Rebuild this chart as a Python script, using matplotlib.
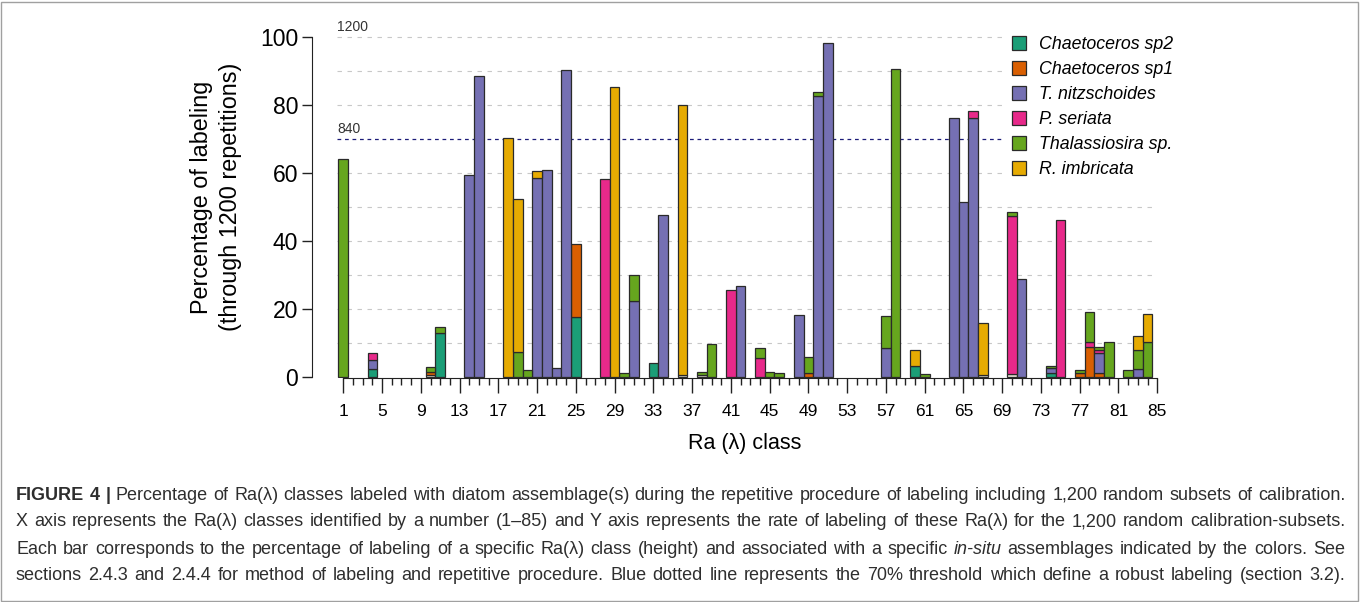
import matplotlib
matplotlib.use("Agg")
import matplotlib.pyplot as plt
import numpy as np
from matplotlib.patches import Rectangle

# classes Ra(lambda)
classes = np.arange(1, 86)

# pourcentages, par classe
autre = {10: 0.6, 36: 0.5, 38: 0.6, 67: 0.5, 70: 0.8}
chaeto_sp2 = {4: 2.2, 11: 13.0, 25: 17.7, 33: 3.9, 60: 3.2, 74: 1.0}
chaeto_sp1 = {10: 0.8, 25: 21.3, 49: 1.2, 77: 1.0, 78: 8.8, 79: 1.2}
t_nitz = {4: 2.7, 14: 59.3, 15: 88.7, 21: 58.5, 22: 61.0, 23: 2.7, 24: 90.4,
          31: 22.4, 34: 47.7, 42: 26.8, 48: 18.1, 50: 82.7, 51: 98.2, 57: 8.6,
          64: 76.3, 65: 51.6, 66: 76.1, 71: 28.9, 74: 1.5, 79: 5.7, 83: 2.3}
p_seriata = {4: 2.2, 28: 58.3, 41: 25.5, 44: 5.4, 66: 2.2, 70: 46.6, 75: 46.2,
             78: 1.5, 79: 1.0}
thalass = {1: 64.2, 10: 1.5, 11: 1.6, 19: 7.2, 20: 2.0, 30: 1.0, 31: 7.7,
           38: 0.9, 39: 9.5, 44: 3.2, 45: 1.5, 46: 1.2, 49: 4.7, 50: 1.2,
           57: 9.3, 58: 90.8, 61: 0.8, 70: 1.0, 74: 0.7, 77: 1.0, 78: 8.8,
           79: 0.8, 80: 10.3, 82: 2.0, 83: 5.6, 84: 10.1}
r_imbr = {18: 70.3, 19: 45.2, 21: 2.2, 29: 85.4, 36: 79.7, 60: 4.7, 67: 15.2,
          83: 4.1, 84: 8.3}

noms = [None, "Chaetoceros sp2", "Chaetoceros sp1", "T. nitzschoides",
        "P. seriata", "Thalassiosira sp.", "R. imbricata"]
couleurs = ["#e9e5d8", "#1b9e77", "#d95f02", "#7570b3", "#e7298a", "#66a61e", "#e6ab02"]
series = [autre, chaeto_sp2, chaeto_sp1, t_nitz, p_seriata, thalass, r_imbr]

yticks = [0, 20, 40, 60, 80, 100]
xlabels = list(range(1, 86, 4))
seuil = 70


def en_tableau(d):
    a = np.zeros(len(classes))
    for k, v in d.items():
        a[k - 1] = v
    return a


plt.rcParams['font.family'] = ['Liberation Sans', 'DejaVu Sans']

W, H = 1360, 602
fig = plt.figure(figsize=(W / 100, H / 100), dpi=100)
ax = fig.add_axes([312 / W, 1 - 378 / H, (1165 - 312) / W, (378 - 30) / H])

bas = np.zeros(len(classes))
for d, c, n in zip(series, couleurs, noms):
    v = en_tableau(d)
    m = v > 0
    ax.bar(classes[m], v[m], bottom=bas[m], width=1.0, color=c,
           edgecolor="#2a2a2a", linewidth=0.9, label=n if n else "_nolegend_", zorder=3)
    bas = bas + v

# grille pointillee
for g in range(10, 101, 10):
    if g == seuil:
        continue
    ax.hlines(g, 0.4, 85, colors="#c8c8c8", linestyles=(0, (4, 5)), linewidth=0.8, zorder=1)
ax.hlines(seuil, 0.4, 85, colors="#1c1c78", linestyles=(0, (3, 3)), linewidth=0.9, zorder=1)
ax.text(0.4, 100.9, "1200", fontsize=10, color="#333333", va="bottom", ha="left")
ax.text(0.4, seuil + 0.9, "840", fontsize=10, color="#333333", va="bottom", ha="left")

ax.set_xlim(-2.23, 85.8)
ax.set_ylim(-0.38, 102.15)

for s in ["top", "right"]:
    ax.spines[s].set_visible(False)
ax.spines["left"].set_bounds(0, 100)
ax.spines["bottom"].set_bounds(1, 85)
ax.spines["left"].set_color("#222222")
ax.spines["bottom"].set_color("#222222")

ax.set_yticks(yticks)
ax.tick_params(axis="y", length=7, width=1, pad=3, labelsize=16.5, color="#222222")
ax.set_xticks(xlabels)
ax.set_xticks(classes, minor=True)
ax.tick_params(axis="x", which="major", length=11, width=1, pad=8, labelsize=12.5, color="#222222")
ax.tick_params(axis="x", which="minor", length=5, width=1, color="#222222")

fig.text(216 / W, 1 - 197 / H, "Percentage of labeling\n(through 1200 repetitions)",
         rotation=90, ha="center", va="center", fontsize=16.8, linespacing=1.3)
fig.text(745 / W, 1 - 443 / H, "Ra (λ) class", ha="center", va="center", fontsize=15.5)

leg = ax.legend(loc="upper left", bbox_to_anchor=(1005 / W, 1 - 29 / H),
                bbox_transform=fig.transFigure, frameon=True, fancybox=False,
                framealpha=1, facecolor="white", edgecolor="white",
                fontsize=12.8, handlelength=0.8, handleheight=0.8,
                handletextpad=0.7, labelspacing=0.45, borderpad=0.4,
                borderaxespad=0)
for t in leg.get_texts():
    t.set_style("italic")
leg.set_zorder(5)

# legende de la figure (texte justifie)
lignes = [
    [("FIGURE 4 |", "bold"), ("Percentage of Ra(λ) classes labeled with diatom assemblage(s) during the repetitive procedure of labeling including 1,200 random subsets of calibration.", "normal")],
    [("X axis represents the Ra(λ) classes identified by a number (1–85) and Y axis represents the rate of labeling of these Ra(λ) for the 1,200 random calibration-subsets.", "normal")],
    [("Each bar corresponds to the percentage of labeling of a specific Ra(λ) class (height) and associated with a specific", "normal"), ("in-situ", "italic"), ("assemblages indicated by the colors.  See", "normal")],
    [("sections 2.4.3 and 2.4.4 for method of labeling and repetitive procedure. Blue dotted line represents the 70% threshold which define a robust labeling (section 3.2).", "normal")],
]
ys = [495, 522, 549, 575]
rend = fig.canvas.get_renderer()
x0, x1 = 16, 1345

# taille de police pour que la ligne la plus longue remplisse la largeur
essai = [fig.text(0, 0, " ".join(t for t, _ in l), fontsize=10) for l in lignes]
plus_long = max(e.get_window_extent(renderer=rend).width for e in essai)
for e in essai:
    e.remove()
taille = 10 * (x1 - x0) / plus_long * 0.995

for ligne, y in zip(lignes, ys):
    objs = []
    for txt, st in ligne:
        for mot in txt.split():
            o = fig.text(0, 1 - y / H, mot, fontsize=taille, color="#2e2e2e", va="center", ha="left",
                         fontweight="bold" if st == "bold" else "normal",
                         fontstyle="italic" if st == "italic" else "normal")
            objs.append(o)
    larg = [o.get_window_extent(renderer=rend).width for o in objs]
    gap = (x1 - x0 - sum(larg)) / (len(objs) - 1)
    x = x0
    for o, l in zip(objs, larg):
        o.set_x(x / W)
        x += l + gap

fig.patches.append(Rectangle((1 / W, 1 / H), (W - 3) / W, (H - 3) / H, transform=fig.transFigure,
                             fill=False, edgecolor="#a0a0a0", linewidth=1))

fig.savefig("out.png", dpi=100)
